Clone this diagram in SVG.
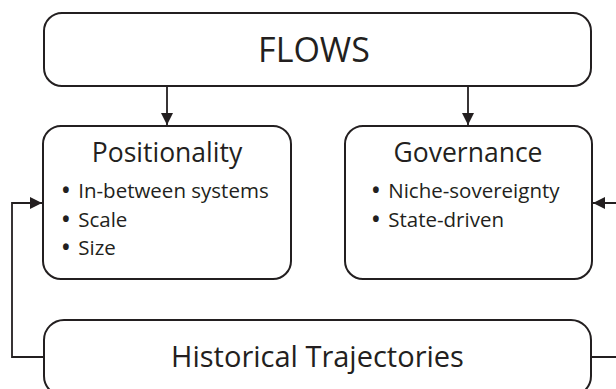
<svg xmlns="http://www.w3.org/2000/svg" width="616" height="389" viewBox="0 0 616 389">
<style>
.box{fill:#fff;stroke:#231f20;stroke-width:2}
.ln{fill:none;stroke:#231f20;stroke-width:1.8}
text{font-family:"Open Sans","DejaVu Sans",sans-serif;fill:#231f20}
.t1{font-size:34px;text-anchor:middle}
.t2{font-size:26.5px;text-anchor:middle}
.t3{font-size:20.5px}
.b{font-weight:bold}
.t4{font-size:29px;text-anchor:middle}
</style>
<defs>
<marker id="ah" markerUnits="userSpaceOnUse" markerWidth="12" markerHeight="12" viewBox="0 0 12 12" refX="12" refY="6" orient="auto">
<path d="M0,0 L12,6 L0,12 Z" fill="#231f20"/>
</marker>
</defs>
<g id="connectors">
<path class="ln" d="M167,86 V125" marker-end="url(#ah)"/>
<path class="ln" d="M468,86 V125" marker-end="url(#ah)"/>
<path class="ln" d="M44,357 H12 V203 H42" marker-end="url(#ah)"/>
<path class="ln" d="M592,357 H630 V203 H593" marker-end="url(#ah)"/>
</g>
<g id="flows">
<rect class="box" x="44" y="13" width="547" height="73" rx="18"/>
<text class="t1" x="314" y="61.5">FLOWS</text>
</g>
<g id="positionality">
<rect class="box" x="43" y="126" width="248" height="153" rx="18"/>
<text class="t2" x="167" y="162">Positionality</text>
<text class="t3" x="62" y="198"><tspan class="b">•</tspan><tspan dx="8.5">In-between systems</tspan></text>
<text class="t3" x="62" y="226.5"><tspan class="b">•</tspan><tspan dx="8.5">Scale</tspan></text>
<text class="t3" x="62" y="255"><tspan class="b">•</tspan><tspan dx="8.5">Size</tspan></text>
</g>
<g id="governance">
<rect class="box" x="345" y="126" width="247" height="153" rx="18"/>
<text class="t2" x="468" y="162">Governance</text>
<text class="t3" x="372" y="198"><tspan class="b">•</tspan><tspan dx="8.5">Niche-sovereignty</tspan></text>
<text class="t3" x="372" y="227"><tspan class="b">•</tspan><tspan dx="8.5">State-driven</tspan></text>
</g>
<g id="historical">
<rect class="box" x="44" y="320" width="547" height="76" rx="20"/>
<text class="t4" x="317.5" y="367">Historical Trajectories</text>
</g>
</svg>
